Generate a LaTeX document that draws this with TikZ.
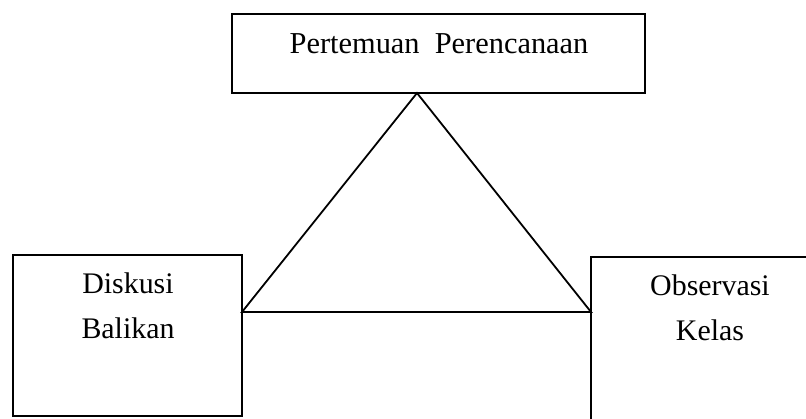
\documentclass[tikz,border=0pt]{standalone}
\usepackage{fontspec}
\setmainfont{Liberation Serif}
\begin{document}
\begin{tikzpicture}[x=1bp,y=1bp,
  box/.style={draw=black,line width=2bp,minimum width=#1,inner sep=0pt,outer sep=0pt},
  lbl/.style={anchor=base,inner sep=0pt,font=\fontsize{30}{36}\selectfont},
  edge/.style={draw=black,line width=1.8bp,line join=miter}]
\useasboundingbox (0,0) rectangle (806,418);
\clip (0,0) rectangle (806,418);
% boxes
\node[box=413bp,minimum height=79bp,anchor=north west] (plan) at (232,404) {};
\node[box=229bp,minimum height=161bp,anchor=north west] (disk) at (13,163) {};
\node[box=238bp,minimum height=200bp,anchor=north west] (obs) at (591,161) {};
% texts
\node[lbl,font=\fontsize{30.5}{36}\selectfont] (t1) at (439,365) {Pertemuan\hspace{0.5em}Perencanaan};
\node[lbl] (t2) at (128,125) {Diskusi};
\node[lbl] (t3) at (128,80) {Balikan};
\node[lbl] (t4) at (710,123) {Observasi};
\node[lbl] (t5) at (710,78) {Kelas};
% triangle
\coordinate (apex) at (417,325);
\coordinate (lv) at (242,106);
\coordinate (rv) at (591,106);
\draw[edge] (apex) -- (lv) -- (rv) -- cycle;
\end{tikzpicture}
\end{document}
